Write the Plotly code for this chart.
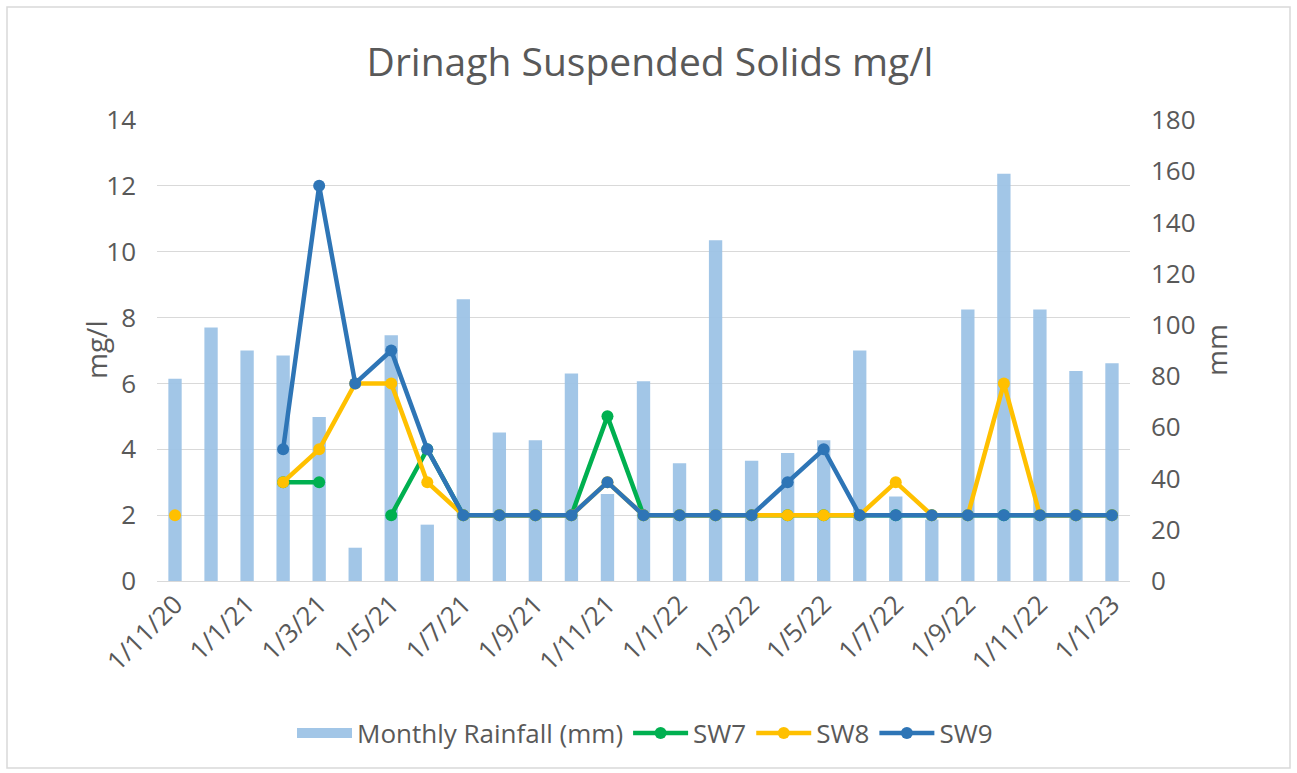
import plotly.graph_objects as go

months = ["1/11/20", "1/12/20", "1/1/21", "1/2/21", "1/3/21", "1/4/21", "1/5/21", "1/6/21",
          "1/7/21", "1/8/21", "1/9/21", "1/10/21", "1/11/21", "1/12/21", "1/1/22", "1/2/22",
          "1/3/22", "1/4/22", "1/5/22", "1/6/22", "1/7/22", "1/8/22", "1/9/22", "1/10/22",
          "1/11/22", "1/12/22", "1/1/23"]
tick_labels = months[::2]

rainfall = [79, 99, 90, 88, 64, 13, 96, 22, 110, 58, 55, 81, 34, 78, 46, 133,
            47, 50, 55, 90, 33, 24, 106, 159, 106, 82, 85]
sw7 = [None, None, None, 3, 3, None, 2, 4, 2, 2, 2, 2, 5, 2, 2, 2,
       2, 2, 2, 2, 2, 2, 2, 2, 2, 2, 2]
sw8 = [2, None, None, 3, 4, 6, 6, 3, 2, 2, 2, 2, 3, 2, 2, 2,
       2, 2, 2, 2, 3, 2, 2, 6, 2, 2, 2]
sw9 = [None, None, None, 4, 12, 6, 7, 4, 2, 2, 2, 2, 3, 2, 2, 2,
       2, 3, 4, 2, 2, 2, 2, 2, 2, 2, 2]

FONT = "Open Sans"
GREY = "#595959"
BAR_COLOR = "rgba(157,195,230,0.95)"

fig = go.Figure()
fig.add_trace(go.Bar(x=months, y=rainfall, name="Monthly Rainfall (mm)",
                     marker=dict(color=BAR_COLOR, line=dict(width=0)),
                     width=0.37, yaxis="y", showlegend=False))
# legend entry for rainfall drawn as a wide band (like the Excel legend key)
fig.add_trace(go.Scatter(x=[months[0]], y=[None], name="Monthly Rainfall (mm)", mode="lines",
                         line=dict(color=BAR_COLOR, width=11), yaxis="y", showlegend=True,
                         hoverinfo="skip"))
for name, vals, col in [("SW7", sw7, "#00B050"), ("SW8", sw8, "#FFC000"), ("SW9", sw9, "#2E75B6")]:
    fig.add_trace(go.Scatter(x=months, y=vals, name=name, mode="lines+markers",
                             line=dict(color=col, width=4.5),
                             marker=dict(color=col, size=12),
                             connectgaps=False, yaxis="y2"))

L, R, T, B = 157, 167, 120, 192
W, H = 1297, 773
pw, ph = W - L - R, H - T - B

def px(x):
    return (x - L) / pw

def py(y):
    return (H - B - y) / ph

TICK = 26

fig.update_layout(
    width=W, height=H,
    margin=dict(l=L, r=R, t=T, b=B),
    paper_bgcolor="white", plot_bgcolor="white",
    font=dict(family=FONT, color=GREY, size=TICK),
    title=dict(text="Drinagh Suspended Solids mg/l", x=px(650), xanchor="center", xref="paper",
               y=1 - 62 / H, yanchor="middle",
               font=dict(size=39, color=GREY, family=FONT)),
    xaxis=dict(type="category", range=[-0.5, 26.5], tickmode="array",
               tickvals=tick_labels, ticktext=tick_labels, tickangle=-45,
               showgrid=False, showline=False, ticks="",
               tickfont=dict(size=TICK, color=GREY), ticklabelstandoff=2),
    yaxis=dict(side="right", range=[0, 180], tick0=0, dtick=20, showgrid=False,
               zeroline=False, showline=False, ticks="",
               tickfont=dict(size=TICK, color=GREY), ticklabelstandoff=20),
    yaxis2=dict(side="left", overlaying="y", range=[0, 14], tick0=0, dtick=2,
                showgrid=True, gridcolor="#D9D9D9", gridwidth=1.2,
                zeroline=True, zerolinecolor="#D9D9D9", zerolinewidth=1.2,
                showline=False, ticks="",
                tickfont=dict(size=TICK, color=GREY), ticklabelstandoff=20),
    legend=dict(orientation="h", x=px(645), xanchor="center", y=py(733), yanchor="middle",
                font=dict(size=26, color=GREY), itemwidth=55,
                traceorder="normal"),
    showlegend=True,
)

fig.add_annotation(text="mg/l", x=px(75), y=py(350), xref="paper", yref="paper",
                   showarrow=False, textangle=-90, font=dict(size=28, color=GREY, family=FONT))
fig.add_annotation(text="mm", x=px(1237), y=py(350), xref="paper", yref="paper",
                   showarrow=False, textangle=-90, font=dict(size=28, color=GREY, family=FONT))

fig.add_shape(type="rect", xref="paper", yref="paper",
              x0=px(7), x1=px(1290), y0=py(768), y1=py(7),
              line=dict(color="#D9D9D9", width=1.5), fillcolor="rgba(0,0,0,0)", layer="below")

fig.write_html("out.html", config={"displayModeBar": False},
               post_script="document.body.style.margin='0';document.body.style.padding='0';")
